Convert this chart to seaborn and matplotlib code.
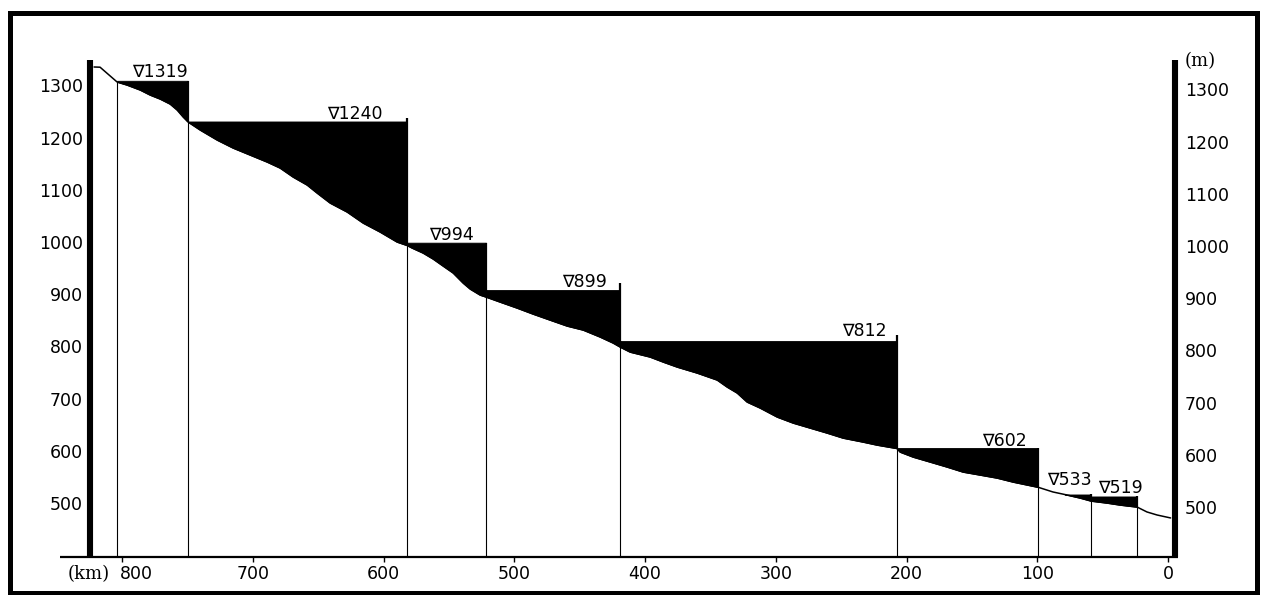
import numpy as np
import pandas as pd
import matplotlib
matplotlib.use("Agg")
import matplotlib.pyplot as plt
import seaborn as sns
from matplotlib.patches import Rectangle

# ---------------- data ----------------
bed_km = [821.4, 816.8, 803.8, 796.2, 786.2, 778.6, 770.9, 763.3, 757.9, 753.3, 749.5,
          740.3, 727.3, 715.1, 702.1, 689.1, 679.2, 669.2, 658.5, 650.9, 640.9, 627.9, 615.7,
          602.7, 589.7, 582.0,
          578.2, 569.8, 562.1, 554.5, 546.8, 539.2, 533.8, 526.2, 521.6,
          510.9, 497.9, 485.7, 472.7, 459.7, 447.4, 434.4, 424.5, 419.1,
          411.5, 396.2, 386.2, 375.5, 360.2, 344.9, 337.3, 329.6, 322.0, 312.0, 299.0, 286.8,
          273.8, 260.8, 248.6, 233.3, 222.6, 207.3,
          205.0, 195.0, 182.0, 169.0, 156.8, 143.8, 130.8, 118.5, 99.4,
          88.0, 77.2, 67.3, 58.9, 46.7, 36.7, 23.7, 16.1, 8.4, -2.0]
bed_elev = [1335.4, 1335.0, 1306.7, 1300.9, 1291.4, 1281.8, 1274.1, 1264.5, 1253.0, 1239.6, 1230.0,
            1214.7, 1195.5, 1180.2, 1166.8, 1153.4, 1141.9, 1124.6, 1109.3, 1094.0, 1074.8, 1057.6,
            1036.5, 1019.3, 1000.1, 993.5,
            988.6, 979.0, 967.5, 954.1, 940.7, 921.5, 910.0, 898.5, 894.7,
            885.1, 873.6, 862.1, 850.6, 839.2, 831.5, 818.1, 806.6, 798.9,
            789.3, 779.8, 770.2, 760.6, 749.1, 735.7, 722.3, 710.8, 693.5, 682.0, 664.8, 653.3,
            643.7, 634.1, 624.5, 616.9, 611.1, 604.5,
            597.7, 588.1, 578.6, 569.0, 559.4, 553.7, 547.9, 540.2, 530.2,
            521.1, 515.3, 509.6, 503.8, 500.0, 496.2, 492.3, 482.8, 477.0, 471.3]

level_labels = ["\u22071319", "\u22071240", "\u2207994", "\u2207899",
                "\u2207812", "\u2207602", "\u2207533", "\u2207519"]
water_level = [1309.0, 1231.0, 998.8, 908.1, 810.4, 605.5, 516.3, 512.5]
reservoir_start_km = [803.8, 749.5, 582.0, 521.6, 419.1, 207.3, 99.4, 58.9]
dam_km = [749.5, 582.0, 521.6, 419.1, 207.3, 99.4, 58.9, 23.7]
dam_crest = [1309.0, 1237.0, 998.8, 921.5, 821.9, 605.5, 516.3, 512.5]
label_km = [749.5, 600.4, 530.8, 429.1, 214.9, 107.8, 58.1, 19.1]
label_elev = [1316.3, 1235.8, 1003.9, 913.9, 820.0, 609.2, 534.5, 519.2]
section_km = [803.8] + dam_km

x_ticks = [800, 700, 600, 500, 400, 300, 200, 100, 0]
y_ticks = [500, 600, 700, 800, 900, 1000, 1100, 1200, 1300]

# ---------------- style ----------------
sns.set_theme(style="white", rc={"axes.edgecolor": "black", "text.color": "black",
                                 "xtick.color": "black", "ytick.color": "black"})
plt.rcParams["font.family"] = ["DejaVu Sans"]

fig = plt.figure(figsize=(12.64, 5.95), dpi=100)
ax = fig.add_axes([90 / 1264, 38 / 595, 1085 / 1264, 497 / 595])

XLO, XHI = 824.5, -5.35
YLO, YHI = 396.5, 1348.8
ax.set_xlim(XLO, XHI)
ax.set_ylim(YLO, YHI)

bed = pd.DataFrame({"km": bed_km, "elev": bed_elev})

# reservoirs (black fill between bed and water level)
km_grid = np.linspace(min(bed_km), max(bed_km), 6000)
bed_grid = np.interp(km_grid, bed["km"].values[::-1], bed["elev"].values[::-1])
for s, d, lvl in zip(reservoir_start_km, dam_km, water_level):
    mask = (km_grid <= s) & (km_grid >= d) & (bed_grid <= lvl)
    ax.fill_between(km_grid, bed_grid, lvl, where=mask, interpolate=True,
                    color="black", lw=0.6, zorder=2)

# river bed
sns.lineplot(data=bed, x="km", y="elev", ax=ax, sort=False, color="black",
             lw=1.1, zorder=3, estimator=None)

# section lines and dam walls
bed_at = lambda k: float(np.interp(k, bed["km"].values[::-1], bed["elev"].values[::-1]))
ax.vlines(section_km, YLO, [bed_at(k) for k in section_km], color="black", lw=0.8, zorder=1)
ax.vlines(dam_km, [bed_at(k) for k in dam_km], dam_crest, color="black", lw=1.6, zorder=3)

# level labels (behind the black reservoir fill)
for k, e, t in zip(label_km, label_elev, level_labels):
    ax.text(k, e, t, ha="right", va="baseline", fontsize=12.5, zorder=1.5,
            bbox=dict(facecolor="white", edgecolor="none", pad=0.0))

# spines: thick bars left/right, bottom axis line extended
for side in ["top", "bottom"]:
    ax.spines[side].set_visible(False)
for side in ["left", "right"]:
    ax.spines[side].set_visible(True)
    ax.spines[side].set_linewidth(4.4)
    ax.spines[side].set_capstyle("butt")
    ax.spines[side].set_color("black")
ax.plot([847.4, -7.6], [YLO, YLO], color="black", lw=1.6, clip_on=False,
        solid_capstyle="butt", zorder=6)

ax.set_xticks(x_ticks)
ax.set_xticklabels([""] + [str(v) for v in x_ticks[1:]])
ax.tick_params(axis="x", bottom=True, direction="out", length=3.6, width=1.0,
               pad=2.0, labelsize=12.5)
ax.annotate("800", xy=(800, 0), xycoords=("data", "axes fraction"),
            xytext=(14.5, -7.8), textcoords="offset pixels", ha="center", va="top",
            fontsize=12.5)
ax.annotate("(km)", xy=(800, 0), xycoords=("data", "axes fraction"),
            xytext=(-33.5, -7.8), textcoords="offset pixels", ha="center", va="top",
            fontsize=13, family="DejaVu Serif")

ax.set_yticks(y_ticks)
ax.set_yticklabels([str(v) for v in y_ticks])
ax.tick_params(axis="y", left=True, length=0, pad=5.0, labelsize=12.5)
ax.set_xlabel("")
ax.set_ylabel("")

ax2 = ax.twinx()
ax2.set_ylim(YLO + 7.5, YHI + 7.5)
ax2.set_yticks(y_ticks)
ax2.set_yticklabels([str(v) for v in y_ticks])
ax2.tick_params(axis="y", right=True, length=0, pad=7.2, labelsize=12.5)
for sp in ax2.spines.values():
    sp.set_visible(False)
ax2.grid(False)
ax.grid(False)

fig.text(1185 / 1264, 1 - 61 / 595, "(m)", ha="left", va="center",
         fontsize=13, family="DejaVu Serif")

fig.patches.append(Rectangle((10 / 1264, 2 / 595), 1247 / 1264, 580.5 / 595,
                             transform=fig.transFigure, fill=False,
                             edgecolor="black", lw=3.6, zorder=10))

fig.savefig("out.png", dpi=100, facecolor="white")
